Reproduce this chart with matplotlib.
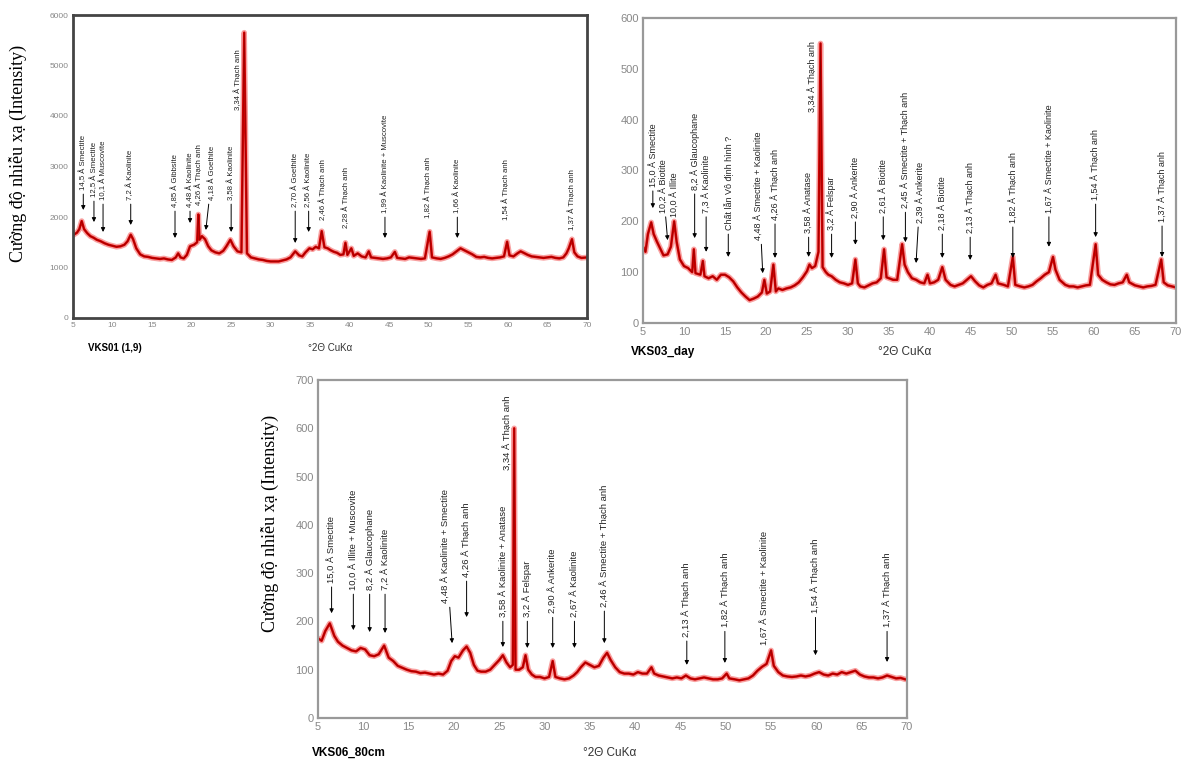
"""XRD patterns of three soil samples (VKS01, VKS03, VKS06)."""

import matplotlib

matplotlib.use('Agg')
import matplotlib.pyplot as plt
import numpy as np

plt.rcParams['font.family'] = ['Liberation Sans', 'DejaVu Sans']

# ---------------------------------------------------------------- data
# VKS01 (1,9)
vks01_2theta = [5.0, 5.5, 5.8, 6.1, 6.4, 6.8, 7.2, 7.6, 8.0, 8.5, 9.0, 9.5, 10.0, 10.5, 11.0, 11.5,
                11.9, 12.3, 12.6, 13.0, 13.5, 14.0, 14.5, 15.0, 15.5, 16.0, 16.5, 17.0, 17.5, 18.0,
                18.3, 18.6, 19.0, 19.4, 19.8, 20.3, 20.7, 20.85, 21.0, 21.3, 21.7, 22.1, 22.5, 23.0,
                23.5, 24.0, 24.4, 24.9, 25.3, 25.8, 26.3, 26.65, 27.0, 27.5, 28.0, 28.5, 29.0, 29.5,
                30.0, 30.5, 31.0, 31.5, 32.0, 32.5, 33.1, 33.6, 34.0, 34.4, 34.9, 35.3, 35.7, 36.1,
                36.45, 36.8, 37.2, 37.6, 38.0, 38.4, 38.8, 39.2, 39.45, 39.7, 40.2, 40.5, 41.0, 41.5,
                42.0, 42.4, 42.7, 43.2, 43.7, 44.2, 44.7, 45.2, 45.7, 46.0, 46.5, 47.0, 47.5, 48.0,
                48.5, 49.0, 49.5, 50.1, 50.4, 51.0, 51.5, 52.0, 52.5, 53.0, 53.5, 54.0, 54.5, 55.0,
                55.5, 56.0, 56.5, 57.0, 57.5, 58.0, 58.5, 59.0, 59.5, 59.9, 60.2, 60.7, 61.2, 61.6,
                62.0, 62.5, 63.0, 63.5, 64.0, 64.5, 65.0, 65.5, 66.0, 66.5, 67.0, 67.4, 67.7, 68.1,
                68.4, 68.8, 69.3, 70.0]
vks01_counts = [1640, 1690, 1760, 1920, 1760, 1680, 1620, 1590, 1550, 1520, 1480, 1450, 1430, 1410, 1420, 1450,
                1520, 1650, 1560, 1380, 1260, 1220, 1210, 1190, 1180, 1170, 1180, 1160, 1150, 1200,
                1280, 1200, 1180, 1250, 1420, 1450, 1500, 2050, 1550, 1620, 1560, 1420, 1340, 1300,
                1280, 1330, 1420, 1550, 1420, 1320, 1300, 5650, 1280, 1200, 1180, 1160, 1150, 1130,
                1120, 1120, 1120, 1140, 1160, 1200, 1320, 1240, 1220, 1300, 1380, 1360, 1410, 1380,
                1720, 1400, 1380, 1340, 1310, 1290, 1250, 1260, 1490, 1250, 1380, 1230, 1280, 1220,
                1200, 1320, 1200, 1190, 1180, 1170, 1180, 1200, 1310, 1190, 1180, 1170, 1200, 1190,
                1180, 1170, 1180, 1710, 1200, 1180, 1170, 1190, 1220, 1260, 1320, 1380, 1340, 1300,
                1260, 1210, 1200, 1210, 1190, 1180, 1190, 1200, 1220, 1510, 1240, 1220, 1280, 1320,
                1290, 1250, 1220, 1210, 1200, 1190, 1200, 1210, 1190, 1180, 1200, 1280, 1380, 1560,
                1300, 1220, 1190, 1200]

# VKS03_day
vks03_2theta = [5.0, 5.3, 5.6, 6.0, 6.3, 6.7, 7.0, 7.5, 8.0, 8.4, 8.8, 9.1, 9.5, 10.0, 10.5, 11.0,
                11.2, 11.4, 12.0, 12.3, 12.5, 13.0, 13.5, 14.0, 14.5, 15.0, 15.5, 16.0, 16.5, 17.0,
                17.5, 18.0, 18.5, 19.0, 19.5, 19.8, 20.1, 20.5, 20.9, 21.2, 21.5, 22.0, 22.5, 23.0,
                23.5, 24.0, 24.5, 25.0, 25.3, 25.6, 26.0, 26.4, 26.65, 26.9, 27.3, 27.6, 28.0, 28.5,
                29.0, 29.5, 30.0, 30.5, 30.9, 31.2, 31.5, 32.0, 32.5, 33.0, 33.5, 34.0, 34.4, 34.7,
                35.0, 35.5, 36.0, 36.6, 36.9, 37.3, 37.8, 38.3, 38.8, 39.3, 39.7, 40.0, 40.5, 41.0,
                41.5, 41.9, 42.5, 43.0, 43.5, 44.0, 44.5, 45.0, 45.5, 46.0, 46.5, 47.0, 47.5, 48.0,
                48.3, 49.0, 49.5, 50.1, 50.4, 51.0, 51.5, 52.0, 52.5, 53.0, 53.5, 54.0, 54.5, 55.0,
                55.3, 55.8, 56.5, 57.0, 57.5, 58.0, 58.5, 59.0, 59.5, 60.2, 60.5, 61.0, 61.5, 62.0,
                62.5, 63.0, 63.5, 64.0, 64.3, 65.0, 65.5, 66.0, 66.5, 67.0, 67.5, 68.2, 68.5, 69.0,
                69.5, 70.0]
vks03_counts = [150, 140, 175, 198, 175, 160, 150, 133, 135, 150, 200, 160, 125, 112, 108, 100,
                145, 98, 95, 122, 92, 88, 92, 85, 95, 95, 90, 82, 70, 60,
                52, 45, 48, 52, 60, 85, 58, 62, 115, 62, 68, 65, 68, 70,
                74, 80, 90, 102, 115, 108, 112, 140, 550, 110, 100, 95, 92, 85,
                80, 78, 75, 78, 125, 78, 72, 70, 74, 78, 80, 88, 145, 90,
                88, 85, 85, 155, 115, 100, 88, 85, 80, 78, 95, 78, 80, 85,
                110, 85, 75, 72, 75, 78, 85, 92, 82, 74, 70, 75, 78, 95,
                78, 75, 72, 130, 75, 72, 70, 72, 75, 82, 88, 95, 100, 130,
                105, 85, 75, 72, 72, 70, 72, 74, 75, 155, 95, 85, 80, 76,
                75, 78, 80, 95, 80, 74, 72, 70, 72, 73, 75, 125, 80, 74,
                72, 70]

# VKS06_80cm
vks06_2theta = [5.0, 5.4, 5.8, 6.3, 6.8, 7.2, 7.7, 8.2, 8.7, 9.2, 9.7, 10.2, 10.7, 11.2, 11.7, 12.3,
                12.8, 13.3, 13.8, 14.3, 14.8, 15.3, 15.8, 16.3, 16.8, 17.3, 17.8, 18.3, 18.8, 19.3,
                19.7, 20.1, 20.5, 21.0, 21.4, 21.8, 22.2, 22.6, 23.0, 23.5, 24.0, 24.5, 25.0, 25.4,
                25.8, 26.2, 26.5, 26.65, 26.8, 27.2, 27.6, 27.9, 28.2, 28.6, 29.0, 29.5, 30.0, 30.5,
                30.9, 31.2, 31.7, 32.2, 32.7, 33.2, 33.6, 34.0, 34.5, 35.0, 35.5, 36.0, 36.5, 36.9,
                37.3, 37.8, 38.3, 38.8, 39.3, 39.8, 40.3, 40.8, 41.3, 41.8, 42.1, 42.6, 43.1, 43.6,
                44.1, 44.6, 45.1, 45.6, 46.1, 46.6, 47.1, 47.6, 48.1, 48.6, 49.1, 49.6, 50.1, 50.4,
                51.0, 51.5, 52.0, 52.5, 53.0, 53.5, 54.0, 54.5, 55.0, 55.3, 55.8, 56.3, 56.8, 57.3,
                57.8, 58.3, 58.8, 59.3, 59.8, 60.3, 60.8, 61.3, 61.8, 62.3, 62.8, 63.3, 63.8, 64.3,
                64.8, 65.3, 65.8, 66.3, 66.8, 67.3, 67.8, 68.3, 68.8, 69.3, 69.8, 70.0]
vks06_counts = [165, 160, 180, 196, 170, 158, 150, 145, 140, 138, 145, 142, 130, 128, 132, 150,
                125, 118, 108, 104, 100, 97, 96, 93, 94, 92, 90, 92, 90, 98,
                118, 128, 125, 140, 148, 135, 110, 98, 96, 96, 100, 110, 120, 130,
                115, 105, 110, 600, 100, 100, 105, 130, 100, 90, 85, 85, 82, 85,
                118, 85, 82, 80, 82, 88, 95, 105, 115, 110, 105, 108, 125, 135,
                120, 105, 95, 92, 92, 90, 95, 92, 92, 105, 92, 88, 86, 84,
                82, 84, 82, 88, 82, 80, 82, 84, 82, 80, 80, 82, 92, 82,
                80, 78, 80, 82, 88, 98, 106, 112, 140, 108, 95, 88, 86, 85,
                86, 88, 86, 88, 92, 95, 90, 88, 92, 90, 95, 92, 95, 98,
                90, 86, 84, 84, 82, 84, 88, 85, 82, 83, 80, 80]

# peak labels: text, 2θ of text, text base height, arrow-tip 2θ, arrow-tip height (None = no arrow)
vks01_labels = ['14,5 Å Smectite', '12,5 Å Smectite', '10,1 Å Muscovite', '7,2 Å Kaolinite',
                '4,85 Å Gibbsite', '4,48 Å Kaolinite', '4,26 Å Thạch anh', '4,18 Å Goethite',
                '3,58 Å Kaolinite', '3,34 Å Thạch anh', '2,70 Å Goethite', '2,56 Å Kaolinite',
                '2,46 Å Thạch anh', '2,28 Å Thạch anh', '1,99 Å Kaolinite + Muscovite',
                '1,82 Å Thạch anh', '1,66 Å Kaolinite', '1,54 Å Thạch anh', '1,37 Å Thạch anh']
vks01_label_x = [6.3, 7.65, 8.8, 12.3, 17.9, 19.8, 20.9, 22.6, 25.0, 25.9, 33.1, 34.8, 36.6, 39.5,
                 44.45, 49.9, 53.6, 59.75, 68.1]
vks01_label_base = [2535, 2396, 2337, 2337, 2198, 2198, 2238, 2337, 2337, 4119, 2198, 2198, 1940,
                    1782, 2079, 1980, 2079, 1940, 1743]
vks01_tip_x = [6.3, 7.65, 8.8, 12.3, 17.9, 19.8, None, 21.8, 25.0, None, 33.1, 34.8, None, None,
               44.45, None, 53.6, None, None]
vks01_tip_y = [2139, 1900, 1703, 1842, 1584, 1881, None, 1743, 1703, None, 1485, 1703, None, None,
               1584, None, 1584, None, None]

vks03_labels = ['15,0 Å Smectite', '10,2 Å Biotite', '10,0 Å Illite', '8,2 Å Glaucophane',
                '7,3 Å Kaolinite', 'Chất lẫn Vô định hình ?', '4,48 Å Smectite + Kaolinite',
                '4,26 Å Thạch anh', '3,58 Å Anatase', '3,34 Å Thạch anh', '3,2 Å Felspar',
                '2,90 Å Ankerite', '2,61 Å Biotite', '2,45 Å Smectite + Thạch anh',
                '2,39 Å Ankerite', '2,18 Å Biotite', '2,13 Å Thạch anh', '1,82 Å Thạch anh',
                '1,67 Å Smectite + Kaolinite', '1,54 Å Thạch anh', '1,37 Å Thạch anh']
vks03_label_x = [6.2, 7.45, 8.8, 11.3, 12.7, 15.4, 19.1, 21.1, 25.2, 25.7, 28.0, 30.9, 34.3, 37.0,
                 38.8, 41.5, 44.9, 50.1, 54.5, 60.2, 68.3]
vks03_label_base = [268, 217, 209, 262, 217, 183, 163, 203, 177, 415, 183, 207, 217, 226, 197, 183,
                    177, 197, 217, 242, 199]
vks03_tip_x = [6.2, 8.0, None, 11.3, 12.7, 15.4, 19.6, 21.1, 25.2, None, 28.0, 30.9, 34.3, 37.0,
               38.3, 41.5, 44.9, 50.1, 54.5, 60.2, 68.3]
vks03_tip_y = [226, 163, None, 167, 140, 130, 98, 128, 130, None, 128, 154, 163, 159, 118, 128, 124,
               128, 150, 169, 130]

vks06_labels = ['15,0 Å Smectite', '10,0 Å Illite + Muscovite', '8,2 Å Glaucophane',
                '7,2 Å Kaolinite', '4,48 Å Kaolinite + Smectite', '4,26 Å Thạch anh',
                '3,58 Å Kaolinite + Anatase', '3,34 Å Thạch anh', '3,2 Å Felspar', '2,90 Å Ankerite',
                '2,67 Å Kaolinite', '2,46 Å Smectite + Thạch anh', '2,13 Å Thạch anh',
                '1,82 Å Thạch anh', '1,67 Å Smectite + Kaolinite', '1,54 Å Thạch anh',
                '1,37 Å Thạch anh']
vks06_label_x = [6.5, 8.9, 10.7, 12.4, 19.1, 21.4, 25.4, 25.9, 28.1, 30.9, 33.3, 36.6, 45.7, 49.9,
                 54.3, 59.9, 67.8]
vks06_label_base = [280, 265, 265, 265, 238, 292, 209, 513, 209, 217, 209, 230, 168, 188, 151, 217, 188]
vks06_tip_x = [6.5, 8.9, 10.7, 12.4, 19.8, 21.4, 25.4, None, 28.1, 30.9, 33.3, 36.6, 45.7, 49.9,
               None, 59.9, 67.8]
vks06_tip_y = [217, 182, 178, 176, 155, 209, 147, None, 145, 145, 145, 155, 110, 114, None, 130, 116]

YLABEL = 'Cường độ nhiễu xạ (Intensity)'
XLABEL = '°2Θ CuKα'


def draw_panel(ax, tt, counts, ymax, ystep, labels, lx, lbase, tx, ty, fs, tick_fs, frame_col, frame_lw):
    tt = np.asarray(tt)
    counts = np.asarray(counts)
    # soft halo + solid red trace, a bit like the noisy band of the scan
    ax.plot(tt, counts, color='#f03030', lw=4.0, alpha=0.45)
    ax.plot(tt, counts, color='#d00000', lw=1.8)
    ax.plot(tt, counts, color='#700000', lw=0.4, alpha=0.7)
    ax.set_xlim(5, 70)
    ax.set_ylim(0, ymax)
    ax.set_xticks(np.arange(5, 71, 5))
    ax.set_yticks(np.arange(0, ymax + 1, ystep))
    ax.tick_params(length=0, labelsize=tick_fs, colors='#888888', pad=3)
    for s in ax.spines.values():
        s.set_color(frame_col)
        s.set_linewidth(frame_lw)
    for i, lab in enumerate(labels):
        if tx[i] is None:
            ax.text(lx[i], lbase[i], lab, rotation=90, ha='center', va='bottom',
                    fontsize=fs, color='#222222')
        else:
            ax.annotate(lab, xy=(tx[i], ty[i]), xytext=(lx[i], lbase[i]), rotation=90,
                        ha='center', va='bottom', fontsize=fs, color='#222222',
                        arrowprops=dict(arrowstyle='-|>', color='black', lw=0.7,
                                        mutation_scale=6, shrinkA=1, shrinkB=0))


fig = plt.figure(figsize=(11.84, 7.62), dpi=100)

ax1 = fig.add_axes([73 / 1184, 1 - 318 / 762, 514 / 1184, 303 / 762])
draw_panel(ax1, vks01_2theta, vks01_counts, 6000, 1000, vks01_labels, vks01_label_x,
           vks01_label_base, vks01_tip_x, vks01_tip_y, 5.6, 6, '#444444', 2.0)

ax2 = fig.add_axes([643 / 1184, 1 - 323 / 762, 533 / 1184, 305 / 762])
draw_panel(ax2, vks03_2theta, vks03_counts, 600, 100, vks03_labels, vks03_label_x,
           vks03_label_base, vks03_tip_x, vks03_tip_y, 6.5, 8, '#999999', 1.6)

ax3 = fig.add_axes([318 / 1184, 1 - 718 / 762, 589 / 1184, 338 / 762])
draw_panel(ax3, vks06_2theta, vks06_counts, 700, 100, vks06_labels, vks06_label_x,
           vks06_label_base, vks06_tip_x, vks06_tip_y, 6.8, 8, '#999999', 1.6)

# sample names and axis titles
fig.text(88 / 1184, 1 - 348 / 762, 'VKS01 (1,9)', fontsize=7, fontweight='bold', va='center')
fig.text(330 / 1184, 1 - 348 / 762, XLABEL, fontsize=7, color='#333333', ha='center', va='center')
fig.text(631 / 1184, 1 - 352 / 762, 'VKS03_day', fontsize=8.5, fontweight='bold', va='center')
fig.text(905 / 1184, 1 - 352 / 762, XLABEL, fontsize=8.5, color='#333333', ha='center', va='center')
fig.text(312 / 1184, 1 - 753 / 762, 'VKS06_80cm', fontsize=8.5, fontweight='bold', va='center')
fig.text(610 / 1184, 1 - 753 / 762, XLABEL, fontsize=8.5, color='#333333', ha='center', va='center')

fig.text(18 / 1184, 1 - 153 / 762, YLABEL, rotation=90, fontsize=13, family='Liberation Serif',
         ha='center', va='center')
fig.text(270 / 1184, 1 - 523 / 762, YLABEL, rotation=90, fontsize=13, family='Liberation Serif',
         ha='center', va='center')

plt.savefig('out.png', dpi=100)
plt.close()
